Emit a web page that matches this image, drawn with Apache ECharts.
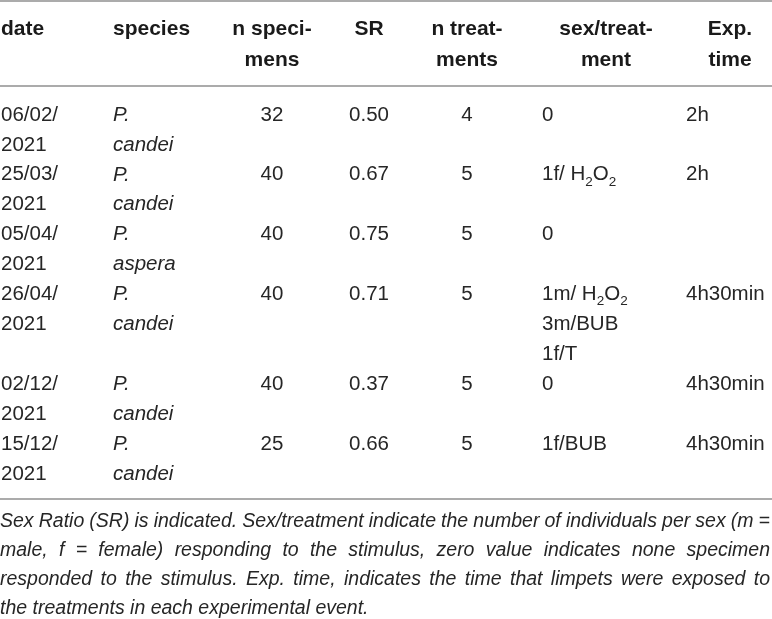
<!DOCTYPE html>
<html>
<head>
<meta charset="utf-8">
<script src="https://cdn.jsdelivr.net/npm/echarts@6/dist/echarts.min.js"></script>
<style>
  html, body { margin: 0; padding: 0; background: #fff; }
  #main { width: 772px; height: 619px; }
</style>
</head>
<body>
<div id="main"></div>
<script>
// table contents
var dates = ['06/02/2021', '25/03/2021', '05/04/2021', '26/04/2021', '02/12/2021', '15/12/2021'];
var species = ['P. candei', 'P. candei', 'P. aspera', 'P. candei', 'P. candei', 'P. candei'];
var nSpecimens = [32, 40, 40, 40, 40, 25];
var sexRatio = [0.50, 0.67, 0.75, 0.71, 0.37, 0.66];
var nTreatments = [4, 5, 5, 5, 5, 5];
var sexTreatment = ['0', '1f/ H{sub|2}O{sub|2}', '0', '1m/ H{sub|2}O{sub|2}\n3m/BUB\n1f/T', '0', '1f/BUB'];
var expTime = ['2h', '2h', '', '4h30min', '4h30min', '4h30min'];
var headers = ['date', 'species', 'n speci-\nmens', 'SR', 'n treat-\nments', 'sex/treat-\nment', 'Exp.\ntime'];
var caption = [
  'Sex Ratio (SR) is indicated. Sex/treatment indicate the number of individuals per sex (m =',
  'male, f = female) responding to the stimulus, zero value indicates none specimen',
  'responded to the stimulus. Exp. time, indicates the time that limpets were exposed to',
  'the treatments in each experimental event.'
];

// layout
var FONT_FAMILY = '"Liberation Sans", Arial, sans-serif';
var W = 772;
var colX = [1, 113, 272, 369, 467, 542, 686];
var colAlign = ['left', 'left', 'center', 'center', 'center', 'left', 'left'];
var headX = [1, 113, 272, 369, 467, 606, 730];
var headAlign = ['left', 'left', 'center', 'center', 'center', 'center', 'center'];
var textColor = '#262626';
var ruleColor = '#ababab';

var cols = [
  dates.map(function (d) { return d.slice(0, 6) + '\n' + d.slice(6); }),
  species.map(function (s) { return s.replace(' ', '\n'); }),
  nSpecimens.map(String),
  sexRatio.map(function (v) { return v.toFixed(2); }),
  nTreatments.map(String),
  sexTreatment,
  expTime
];

// each row takes as many text lines as its tallest cell
var rowStart = [];
var totalLines = 0;
dates.forEach(function (d, r) {
  rowStart.push(totalLines);
  var n = 1;
  cols.forEach(function (c) { n = Math.max(n, c[r].split('\n').length); });
  totalLines += n;
});

var cells = [];
cols.forEach(function (c, ci) {
  c.forEach(function (txt, r) {
    if (txt !== '') cells.push([colX[ci], rowStart[r], ci, txt]);
  });
});

var chart = echarts.init(document.getElementById('main'), null, { renderer: 'canvas' });

// caption: justified lines, word by word
var measure = document.createElement('canvas').getContext('2d');
var capFont = 'italic 19.5px ' + FONT_FAMILY;
measure.font = capFont;
var capTop = 522, capPitch = 28.8;
var graphics = [];
caption.forEach(function (line, li) {
  var words = line.split(' ');
  var widths = words.map(function (w) { return measure.measureText(w).width; });
  var sum = widths.reduce(function (a, b) { return a + b; }, 0);
  var last = li === caption.length - 1;
  var gap = last ? measure.measureText(' ').width : (W - 2 - sum) / (words.length - 1);
  var x = 0;
  words.forEach(function (w, wi) {
    graphics.push({
      type: 'text', silent: true,
      style: {
        text: w, x: x, y: capTop + li * capPitch, font: capFont, fill: textColor,
        textAlign: 'left', textVerticalAlign: 'middle', align: 'left', verticalAlign: 'middle'
      }
    });
    x += widths[wi] + gap;
  });
});

// header
headers.forEach(function (h, i) {
  graphics.push({
    type: 'text', silent: true,
    style: {
      text: h, x: headX[i], y: 14, font: 'bold 21px ' + FONT_FAMILY, fill: '#1a1a1a',
      lineHeight: 31, textAlign: headAlign[i], textVerticalAlign: 'top',
      align: headAlign[i], verticalAlign: 'top'
    }
  });
});

// rules
[1, 86, 499].forEach(function (y) {
  graphics.push({
    type: 'line', silent: true,
    shape: { x1: 0, y1: y, x2: W, y2: y },
    style: { stroke: ruleColor, lineWidth: 2 }
  });
});

var option = {
  animation: false,
  grid: { left: 0, right: 0, top: 100, bottom: 130 },
  xAxis: { type: 'value', min: 0, max: W, show: false },
  yAxis: { type: 'value', min: 0, max: totalLines, inverse: true, show: false },
  graphic: graphics,
  series: [{
    type: 'custom',
    coordinateSystem: 'cartesian2d',
    data: cells,
    renderItem: function (params, api) {
      var p = api.coord([api.value(0), api.value(1)]);
      var pitch = api.size([0, 1])[1];
      var ci = api.value(2);
      var txt = cells[params.dataIndex][3];
      return {
        type: 'text',
        style: {
          text: txt, x: p[0], y: p[1],
          font: (ci === 1 ? 'italic ' : '') + '20.5px ' + FONT_FAMILY,
          fill: textColor,
          lineHeight: pitch,
          textAlign: colAlign[ci], textVerticalAlign: 'top',
          align: colAlign[ci], verticalAlign: 'top',
          rich: {
            sub: { fontSize: 13.5, fontFamily: FONT_FAMILY, fill: textColor, lineHeight: pitch - 14, padding: [14, 0, 0, 0] }
          }
        }
      };
    }
  }]
};
chart.setOption(option);
</script>
</body>
</html>
